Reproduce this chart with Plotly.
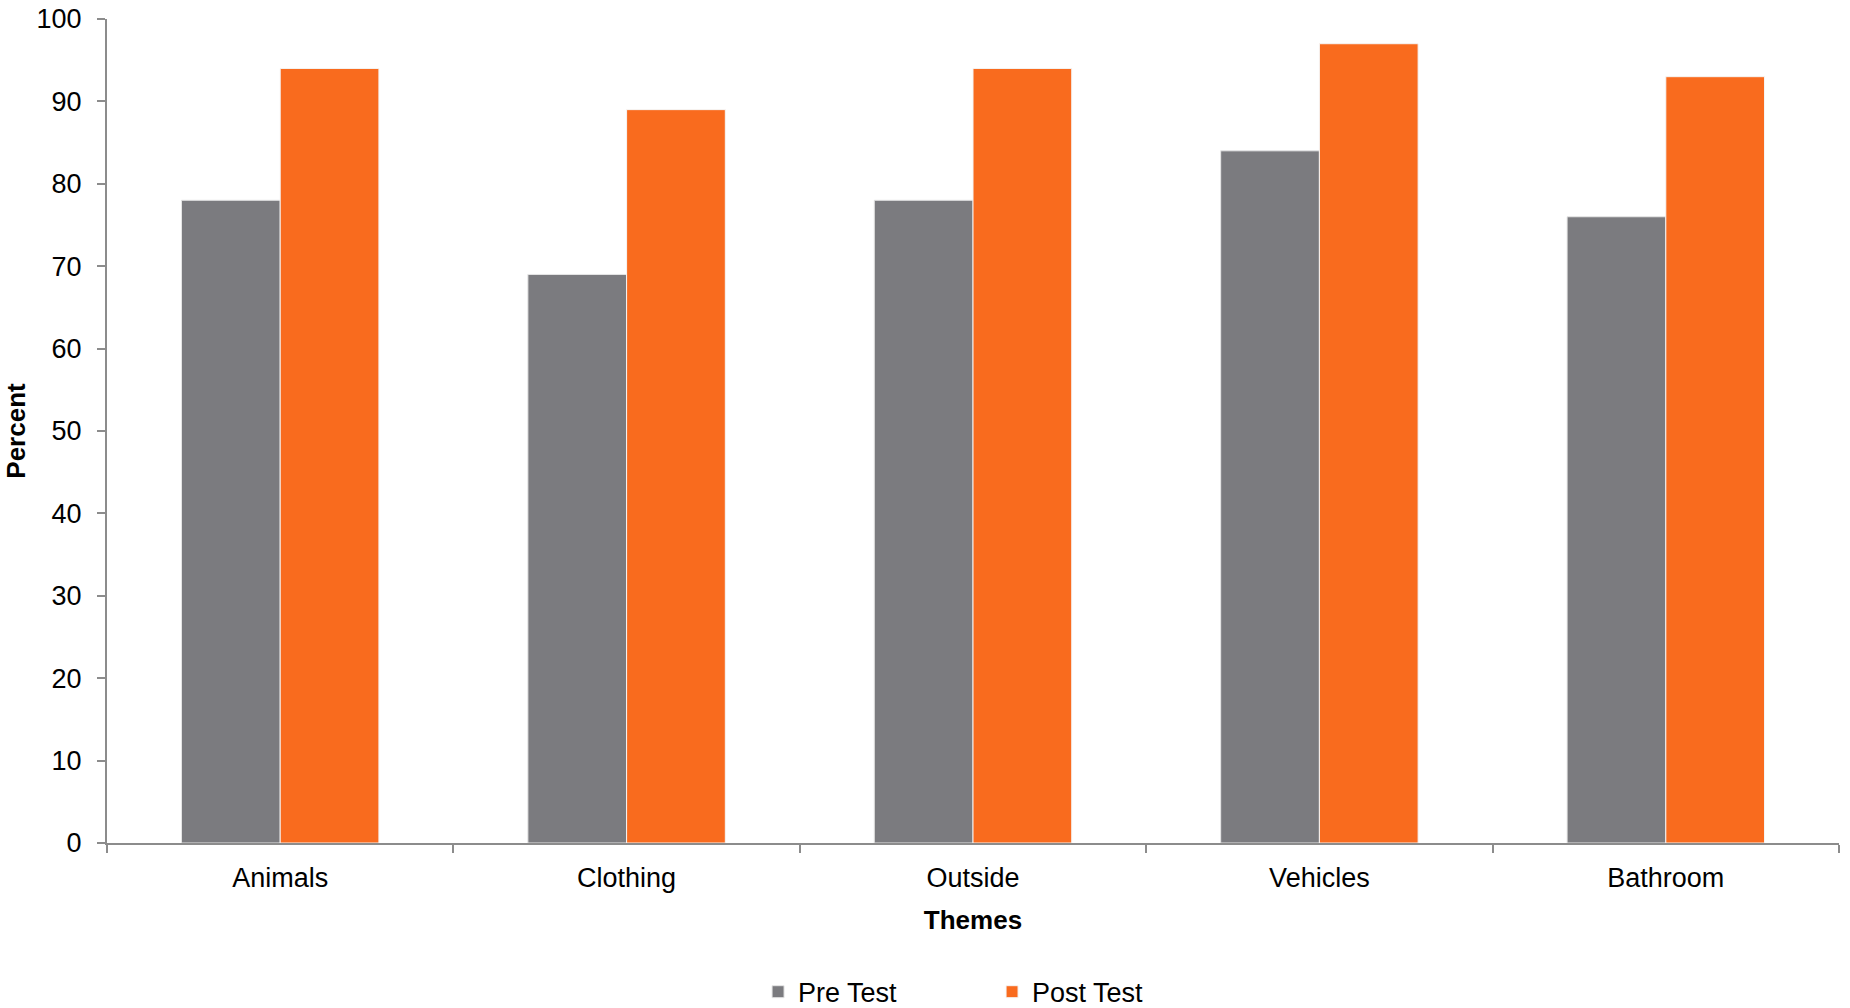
import plotly.graph_objects as go

categories = ["Animals", "Clothing", "Outside", "Vehicles", "Bathroom"]
pre_test = [78, 69, 78, 84, 76]
post_test = [94, 89, 94, 97, 93]
y_ticks = [0, 10, 20, 30, 40, 50, 60, 70, 80, 90, 100]

GRAY = "#7B7B7F"
ORANGE = "#F96B1E"
AXIS = "#8C8C8C"
FONT = "Liberation Sans"

fig = go.Figure()
fig.add_trace(go.Bar(name="Pre Test", x=categories, y=pre_test,
                     marker=dict(color=GRAY, line=dict(color="#E6E6E6", width=1))))
fig.add_trace(go.Bar(name="Post Test", x=categories, y=post_test,
                     marker=dict(color=ORANGE, line=dict(color="#F5F5F5", width=1))))

fig.update_layout(
    width=1850, height=1008,
    barmode="group", bargap=0.43, bargroupgap=0,
    plot_bgcolor="white", paper_bgcolor="white",
    margin=dict(l=107, r=11, t=19, b=165, autoexpand=False),
    font=dict(family=FONT, size=27, color="black"),
    showlegend=True,
    legend=dict(orientation="h", x=0.511, xanchor="center", y=-0.181, yanchor="middle",
                font=dict(size=27), entrywidth=189, itemwidth=30),
    xaxis=dict(
        title=dict(text="<b>Themes</b>", font=dict(size=26), standoff=18),
        showline=True, linecolor=AXIS, linewidth=2,
        ticks="outside", tickson="boundaries", ticklen=8, tickcolor=AXIS, tickwidth=2,
        showgrid=False, tickfont=dict(size=27), ticklabelstandoff=10,
    ),
    yaxis=dict(
        title=dict(text="<b>Percent</b>", font=dict(size=26), standoff=3),
        range=[0, 100], tickvals=y_ticks,
        showline=True, linecolor=AXIS, linewidth=2,
        ticks="outside", ticklen=8, tickcolor=AXIS, tickwidth=2,
        showgrid=False, zeroline=False, tickfont=dict(size=27), ticklabelstandoff=10,
    ),
)

fig.write_html("out.html")
